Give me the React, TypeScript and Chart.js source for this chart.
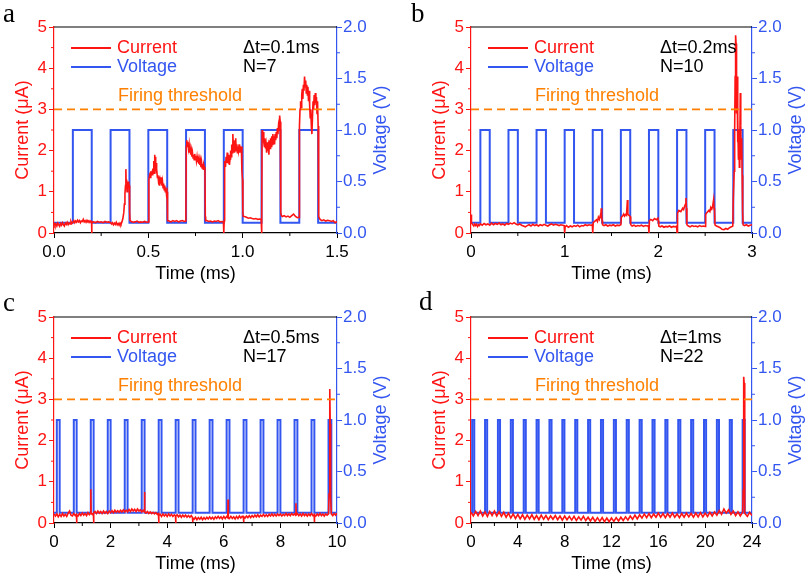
import React, { useEffect, useRef } from 'react';
import { Chart, registerables } from 'chart.js';

Chart.register(...registerables);

const RED = '#ff1414';
const BLUE = '#3456f0';
const ORANGE = '#ff8000';
const FONT = "'Liberation Sans', Arial, sans-serif";

const V_LOW = 0.1;
const V_HIGH = 1.0;
const THRESHOLD = 3;

const CURRENT_TICKS = [0, 1, 2, 3, 4, 5];
const VOLTAGE_TICKS = ['0.0', '0.5', '1.0', '1.5', '2.0'];

// ---------- panel a : dt = 0.1 ms ----------
const A_PULSE_STARTS = [0.1, 0.3, 0.5, 0.7, 0.9, 1.1, 1.3];
const A_PULSE_WIDTH = 0.1;
const A_CURRENT: [number, number][] = [
  [0, 0.25], [0.005, 0.18], [0.01, 0.22], [0.015, 0.17], [0.02, 0.24], [0.025, 0.2], [0.03, 0.16], [0.035, 0.23],
  [0.04, 0.19], [0.045, 0.25], [0.05, 0.2], [0.055, 0.17], [0.06, 0.24], [0.065, 0.21], [0.07, 0.26], [0.075, 0.2],
  [0.08, 0.24], [0.085, 0.22], [0.09, 0.28], [0.095, 0.23], [0.1, 0.26],
  [0.105, 0.3], [0.11, 0.25], [0.115, 0.29], [0.12, 0.26], [0.125, 0.31], [0.13, 0.27], [0.135, 0.3], [0.14, 0.25],
  [0.145, 0.29], [0.15, 0.28], [0.155, 0.33], [0.16, 0.27], [0.165, 0.3], [0.17, 0.26], [0.175, 0.31], [0.18, 0.28],
  [0.185, 0.3], [0.19, 0.26], [0.195, 0.29], [0.199, 0.28], [0.2, 0.0], [0.201, 0.26],
  [0.21, 0.27], [0.22, 0.25], [0.23, 0.28], [0.24, 0.26], [0.25, 0.27], [0.26, 0.25], [0.27, 0.28], [0.28, 0.26],
  [0.29, 0.27], [0.3, 0.25],
  [0.305, 0.22], [0.31, 0.25], [0.315, 0.2], [0.32, 0.24], [0.325, 0.21], [0.33, 0.26], [0.335, 0.2], [0.34, 0.23],
  [0.345, 0.19], [0.35, 0.24], [0.355, 0.21], [0.36, 0.27], [0.365, 0.35], [0.37, 0.5], [0.373, 0.7], [0.376, 0.95],
  [0.379, 1.15], [0.381, 1.55], [0.383, 1.1], [0.385, 1.3], [0.387, 1.0], [0.389, 1.2], [0.391, 1.05], [0.393, 1.25],
  [0.395, 1.1], [0.397, 1.2], [0.399, 1.15], [0.401, 0.5], [0.403, 0.3],
  [0.41, 0.28], [0.42, 0.26], [0.43, 0.27], [0.44, 0.29], [0.45, 0.26], [0.46, 0.27], [0.47, 0.26], [0.48, 0.28],
  [0.49, 0.26], [0.5, 0.27],
  [0.503, 1.3], [0.507, 1.4], [0.51, 1.35], [0.513, 1.5], [0.516, 1.42], [0.52, 1.48], [0.523, 1.4], [0.526, 1.55],
  [0.529, 1.75], [0.531, 1.45], [0.533, 1.9], [0.535, 1.6], [0.537, 1.85], [0.539, 1.5], [0.541, 1.7], [0.543, 1.45],
  [0.545, 1.55], [0.548, 1.35], [0.551, 1.4], [0.554, 1.25], [0.557, 1.3], [0.56, 1.15], [0.563, 1.28], [0.566, 1.2],
  [0.569, 1.35], [0.572, 1.15], [0.575, 1.25], [0.578, 1.1], [0.581, 1.2], [0.584, 1.05], [0.587, 1.15], [0.59, 1.0],
  [0.593, 1.1], [0.596, 0.95], [0.599, 1.0], [0.601, 0.5], [0.603, 0.3],
  [0.61, 0.29], [0.62, 0.27], [0.63, 0.3], [0.64, 0.28], [0.65, 0.3], [0.66, 0.27], [0.67, 0.29], [0.68, 0.3],
  [0.69, 0.28], [0.699, 0.29],
  [0.701, 2.1], [0.704, 2.25], [0.707, 2.15], [0.71, 2.2], [0.713, 2.05], [0.716, 2.15], [0.719, 1.95], [0.722, 2.05],
  [0.725, 1.9], [0.728, 2.0], [0.731, 1.85], [0.734, 1.95], [0.737, 1.82], [0.74, 1.9], [0.743, 1.78], [0.746, 1.92],
  [0.749, 1.8], [0.752, 1.87], [0.755, 1.75], [0.758, 1.85], [0.761, 1.72], [0.764, 1.8], [0.767, 1.68], [0.77, 1.78],
  [0.773, 1.65], [0.776, 1.75], [0.779, 1.6], [0.782, 1.72], [0.785, 1.58], [0.788, 1.68], [0.791, 1.55], [0.794, 1.65],
  [0.797, 1.6], [0.8, 1.55], [0.802, 0.4], [0.804, 0.3],
  [0.81, 0.3], [0.82, 0.28], [0.83, 0.29], [0.84, 0.27], [0.85, 0.29], [0.86, 0.28], [0.87, 0.3], [0.88, 0.27],
  [0.89, 0.28], [0.898, 0.27], [0.9, 0.0], [0.902, 0.3],
  [0.903, 1.65], [0.906, 1.75], [0.909, 1.6], [0.912, 1.85], [0.915, 1.7], [0.918, 1.95], [0.921, 1.75], [0.924, 1.7],
  [0.927, 1.9], [0.93, 1.65], [0.933, 1.8], [0.936, 2.0], [0.939, 1.85], [0.942, 2.15], [0.945, 1.95], [0.948, 2.4],
  [0.951, 2.0], [0.954, 2.25], [0.957, 1.95], [0.96, 2.1], [0.963, 2.3], [0.966, 2.0], [0.969, 2.15], [0.972, 1.95],
  [0.975, 2.1], [0.978, 2.0], [0.981, 2.15], [0.984, 1.95], [0.987, 2.05], [0.99, 2.0], [0.993, 2.1], [0.996, 1.5],
  [0.999, 1.3], [1.001, 0.5], [1.003, 0.4],
  [1.01, 0.4], [1.02, 0.38], [1.03, 0.36], [1.04, 0.37], [1.05, 0.35], [1.06, 0.34], [1.07, 0.35], [1.08, 0.33],
  [1.09, 0.34], [1.098, 0.33], [1.1, 0.0], [1.102, 0.3],
  [1.103, 2.5], [1.106, 2.3], [1.109, 2.45], [1.112, 2.2], [1.115, 2.1], [1.118, 2.3], [1.121, 2.05], [1.124, 2.15],
  [1.127, 1.95], [1.13, 2.2], [1.133, 2.0], [1.136, 2.1], [1.139, 1.9], [1.142, 2.25], [1.145, 2.05], [1.148, 2.3],
  [1.151, 2.1], [1.154, 2.35], [1.157, 2.15], [1.16, 2.4], [1.163, 2.2], [1.166, 2.35], [1.169, 2.15], [1.172, 2.4],
  [1.175, 2.25], [1.178, 2.45], [1.181, 2.3], [1.184, 2.55], [1.187, 2.4], [1.19, 2.6], [1.193, 2.5], [1.196, 2.85],
  [1.199, 2.7], [1.201, 1.4], [1.203, 0.5], [1.205, 0.42],
  [1.21, 0.4], [1.22, 0.42], [1.23, 0.39], [1.24, 0.41], [1.25, 0.38], [1.26, 0.42], [1.27, 0.46], [1.28, 0.4],
  [1.29, 0.37], [1.299, 0.38],
  [1.301, 2.6], [1.304, 3.0], [1.307, 3.2], [1.31, 3.05], [1.313, 3.35], [1.316, 3.5], [1.319, 3.25], [1.322, 3.6],
  [1.325, 3.45], [1.328, 3.8], [1.331, 3.55], [1.334, 3.7], [1.337, 3.4], [1.34, 3.6], [1.343, 3.35], [1.346, 3.55],
  [1.349, 3.2], [1.352, 3.45], [1.355, 3.1], [1.358, 2.8], [1.361, 3.0], [1.364, 2.6], [1.367, 2.4], [1.37, 2.8],
  [1.373, 3.2], [1.376, 3.0], [1.379, 3.35], [1.382, 3.1], [1.385, 3.4], [1.388, 3.15], [1.391, 3.3], [1.394, 2.9],
  [1.397, 3.2], [1.4, 2.6], [1.402, 1.1], [1.404, 0.4],
  [1.41, 0.33], [1.42, 0.3], [1.43, 0.32], [1.44, 0.29], [1.45, 0.31], [1.46, 0.3], [1.47, 0.28], [1.48, 0.3],
  [1.49, 0.25], [1.5, 0.28],
];

// ---------- panel b : dt = 0.2 ms ----------
const B_PULSE_STARTS = [0.1, 0.4, 0.7, 1.0, 1.3, 1.6, 1.9, 2.2, 2.5, 2.8];
const B_PULSE_WIDTH = 0.1;
const B_CURRENT: [number, number][] = [
  [0, 0.45], [0.005, 0.25], [0.02, 0.2], [0.03, 0.17], [0.04, 0.22], [0.05, 0.18], [0.06, 0.21], [0.07, 0.16],
  [0.08, 0.2], [0.09, 0.18], [0.1, 0.22], [0.12, 0.19], [0.14, 0.23], [0.16, 0.2], [0.18, 0.22], [0.2, 0.19],
  [0.22, 0.24], [0.24, 0.2], [0.26, 0.23], [0.28, 0.21], [0.3, 0.24], [0.32, 0.2], [0.34, 0.22], [0.36, 0.19],
  [0.38, 0.23], [0.4, 0.21], [0.42, 0.24], [0.44, 0.22], [0.46, 0.25], [0.48, 0.22], [0.5, 0.2], [0.52, 0.22],
  [0.54, 0.19], [0.56, 0.17], [0.58, 0.15], [0.6, 0.18], [0.62, 0.2], [0.64, 0.17], [0.66, 0.21], [0.68, 0.18],
  [0.7, 0.2], [0.72, 0.17], [0.74, 0.2], [0.76, 0.18], [0.78, 0.21], [0.8, 0.19], [0.82, 0.17], [0.84, 0.2],
  [0.86, 0.22], [0.88, 0.19], [0.9, 0.21], [0.92, 0.2], [0.94, 0.18], [0.96, 0.2], [0.98, 0.19], [0.995, 0.18],
  [1.0, 0.0], [1.005, 0.15], [1.02, 0.18], [1.04, 0.14], [1.06, 0.17], [1.08, 0.15], [1.1, 0.18], [1.12, 0.16],
  [1.14, 0.19], [1.16, 0.15], [1.18, 0.18], [1.2, 0.17], [1.22, 0.2], [1.24, 0.18], [1.26, 0.2], [1.28, 0.19],
  [1.295, 0.2], [1.3, 0.0], [1.305, 0.25], [1.32, 0.28], [1.34, 0.32], [1.35, 0.28], [1.36, 0.38], [1.37, 0.33],
  [1.38, 0.42], [1.385, 0.36], [1.39, 0.6], [1.395, 0.4], [1.4, 0.3], [1.405, 0.2], [1.42, 0.18], [1.44, 0.2],
  [1.46, 0.17], [1.48, 0.19], [1.5, 0.18], [1.52, 0.2], [1.54, 0.17], [1.56, 0.19], [1.58, 0.18], [1.6, 0.2],
  [1.605, 0.38], [1.62, 0.42], [1.63, 0.46], [1.64, 0.41], [1.65, 0.45], [1.66, 0.43], [1.67, 0.8], [1.675, 0.45],
  [1.69, 0.42], [1.7, 0.4], [1.705, 0.2], [1.72, 0.17], [1.74, 0.19], [1.76, 0.16], [1.78, 0.18], [1.8, 0.17],
  [1.82, 0.19], [1.84, 0.16], [1.86, 0.18], [1.88, 0.17], [1.895, 0.18], [1.9, 0.0], [1.905, 0.3], [1.92, 0.33],
  [1.94, 0.3], [1.96, 0.35], [1.98, 0.32], [1.995, 0.36], [2.0, 0.3], [2.005, 0.17], [2.02, 0.15], [2.04, 0.17],
  [2.06, 0.14], [2.08, 0.16], [2.1, 0.15], [2.12, 0.17], [2.14, 0.14], [2.16, 0.16], [2.18, 0.15], [2.195, 0.17],
  [2.2, 0.0], [2.205, 0.48], [2.22, 0.55], [2.24, 0.52], [2.26, 0.6], [2.27, 0.57], [2.28, 0.65], [2.29, 0.7],
  [2.295, 0.85], [2.3, 0.6], [2.305, 0.2], [2.32, 0.17], [2.34, 0.15], [2.36, 0.18], [2.38, 0.16], [2.4, 0.17],
  [2.42, 0.15], [2.44, 0.18], [2.46, 0.16], [2.48, 0.17], [2.5, 0.16], [2.505, 0.45], [2.52, 0.5], [2.54, 0.55],
  [2.55, 0.52], [2.56, 0.62], [2.57, 0.58], [2.58, 0.65], [2.59, 0.8], [2.595, 0.6], [2.6, 0.55], [2.605, 0.2],
  [2.62, 0.17], [2.64, 0.15], [2.66, 0.13], [2.68, 0.09], [2.7, 0.08], [2.72, 0.11], [2.74, 0.09], [2.76, 0.13],
  [2.78, 0.15], [2.795, 0.17], [2.8, 0.8], [2.81, 1.5], [2.815, 2.5], [2.82, 3.8], [2.825, 4.8], [2.83, 4.6],
  [2.835, 2.9], [2.84, 3.8], [2.845, 2.2], [2.85, 2.8], [2.855, 1.8], [2.86, 2.5], [2.865, 1.6], [2.87, 2.2],
  [2.875, 3.4], [2.88, 2.6], [2.885, 1.8], [2.89, 2.3], [2.895, 1.4], [2.9, 0.5], [2.905, 0.2], [2.92, 0.18],
  [2.94, 0.2], [2.96, 0.17], [2.98, 0.19], [3.0, 0.2],
];

// ---------- panel c : dt = 0.5 ms ----------
const C_PULSE_STARTS = [0.1, 0.7, 1.3, 1.9, 2.5, 3.1, 3.7, 4.3, 4.9, 5.5, 6.1, 6.7, 7.3, 7.9, 8.5, 9.1, 9.7];
const C_PULSE_WIDTH = 0.1;
const C_CURRENT: [number, number][] = [
  [0, 0.22], [0.05, 0.17], [0.1, 0.22], [0.15, 0.15], [0.2, 0.21], [0.25, 0.16], [0.3, 0.23], [0.35, 0.17],
  [0.4, 0.21], [0.45, 0.16], [0.5, 0.24], [0.55, 0.29], [0.6, 0.19], [0.65, 0.17], [0.7, 0.23], [0.75, 0.18],
  [0.79, 0.21], [0.8, 0.0], [0.81, 0.2], [0.85, 0.17], [0.9, 0.23], [0.95, 0.18], [1.0, 0.24], [1.05, 0.19],
  [1.1, 0.23], [1.15, 0.18], [1.2, 0.25], [1.25, 0.2], [1.29, 0.23], [1.3, 0.82], [1.31, 0.24], [1.35, 0.21],
  [1.39, 0.23], [1.4, 0.0], [1.41, 0.25], [1.45, 0.28], [1.5, 0.23], [1.55, 0.29], [1.6, 0.24], [1.65, 0.28],
  [1.7, 0.23], [1.75, 0.29], [1.8, 0.24], [1.85, 0.28], [1.9, 0.23], [1.95, 0.29], [2.0, 0.25], [2.05, 0.3],
  [2.1, 0.25], [2.15, 0.31], [2.2, 0.26], [2.25, 0.3], [2.3, 0.26], [2.35, 0.31], [2.4, 0.27], [2.45, 0.32],
  [2.5, 0.27], [2.55, 0.31], [2.6, 0.27], [2.65, 0.33], [2.7, 0.28], [2.75, 0.34], [2.8, 0.29], [2.85, 0.33],
  [2.9, 0.28], [2.95, 0.34], [3.0, 0.29], [3.05, 0.32], [3.1, 0.27], [3.15, 0.31], [3.19, 0.27], [3.2, 0.75],
  [3.21, 0.27], [3.25, 0.24], [3.3, 0.28], [3.35, 0.23], [3.4, 0.27], [3.45, 0.23], [3.5, 0.26], [3.55, 0.22],
  [3.6, 0.25], [3.65, 0.21], [3.69, 0.23], [3.7, 0.0], [3.71, 0.18], [3.75, 0.21], [3.8, 0.16], [3.85, 0.22],
  [3.9, 0.17], [3.95, 0.21], [4.0, 0.16], [4.05, 0.22], [4.1, 0.17], [4.15, 0.21], [4.2, 0.16], [4.25, 0.2],
  [4.29, 0.18], [4.3, 0.0], [4.31, 0.17], [4.35, 0.2], [4.4, 0.15], [4.45, 0.19], [4.5, 0.14], [4.55, 0.19],
  [4.6, 0.15], [4.65, 0.19], [4.7, 0.14], [4.75, 0.18], [4.8, 0.14], [4.85, 0.18], [4.89, 0.14], [4.9, 0.02],
  [4.91, 0.12], [4.95, 0.09], [5.0, 0.14], [5.05, 0.08], [5.1, 0.13], [5.15, 0.09], [5.2, 0.14], [5.25, 0.08],
  [5.3, 0.13], [5.35, 0.09], [5.4, 0.14], [5.45, 0.1], [5.5, 0.15], [5.55, 0.1], [5.6, 0.14], [5.65, 0.09],
  [5.7, 0.15], [5.75, 0.11], [5.8, 0.16], [5.85, 0.11], [5.9, 0.15], [5.95, 0.1], [6.0, 0.16], [6.05, 0.11],
  [6.1, 0.16], [6.14, 0.13], [6.15, 0.57], [6.16, 0.14], [6.2, 0.11], [6.25, 0.16], [6.3, 0.11], [6.35, 0.15],
  [6.4, 0.1], [6.45, 0.16], [6.5, 0.11], [6.55, 0.17], [6.6, 0.12], [6.65, 0.16], [6.69, 0.14], [6.7, 0.02],
  [6.71, 0.15], [6.75, 0.12], [6.8, 0.17], [6.85, 0.13], [6.9, 0.18], [6.95, 0.13], [7.0, 0.18], [7.05, 0.14],
  [7.1, 0.19], [7.15, 0.15], [7.2, 0.2], [7.25, 0.15], [7.3, 0.19], [7.35, 0.16], [7.4, 0.21], [7.45, 0.16],
  [7.5, 0.2], [7.55, 0.16], [7.6, 0.21], [7.65, 0.17], [7.7, 0.22], [7.75, 0.17], [7.8, 0.21], [7.85, 0.17],
  [7.9, 0.22], [7.95, 0.18], [8.0, 0.22], [8.05, 0.17], [8.1, 0.21], [8.15, 0.18], [8.2, 0.23], [8.25, 0.18],
  [8.3, 0.22], [8.35, 0.18], [8.4, 0.23], [8.45, 0.19], [8.5, 0.22], [8.54, 0.19], [8.55, 0.48], [8.56, 0.2],
  [8.6, 0.23], [8.65, 0.18], [8.7, 0.22], [8.75, 0.17], [8.8, 0.23], [8.85, 0.18], [8.9, 0.22], [8.95, 0.17],
  [9.0, 0.22], [9.05, 0.18], [9.1, 0.23], [9.15, 0.18], [9.19, 0.2], [9.2, 0.02], [9.21, 0.2], [9.25, 0.17],
  [9.3, 0.22], [9.35, 0.18], [9.4, 0.23], [9.45, 0.18], [9.5, 0.22], [9.55, 0.17], [9.6, 0.22], [9.65, 0.19],
  [9.7, 0.22], [9.72, 0.7], [9.74, 1.8], [9.75, 3.25], [9.76, 2.4], [9.77, 1.2], [9.78, 0.6], [9.8, 0.22],
  [9.85, 0.18], [9.9, 0.23], [9.95, 0.19], [10, 0.24],
];

// ---------- panel d : dt = 1 ms ----------
const D_PULSE_STARTS = [0.1, 1.2, 2.3, 3.4, 4.5, 5.6, 6.7, 7.8, 8.9, 10.0, 11.1, 12.2, 13.3, 14.4, 15.5, 16.6, 17.7, 18.8, 19.9, 21.0, 22.1, 23.2];
const D_PULSE_WIDTH = 0.18;
const D_CURRENT: [number, number][] = [
  [0, 0.26], [0.2, 0.17], [0.4, 0.28], [0.6, 0.18], [0.8, 0.29], [1.0, 0.17], [1.2, 0.27], [1.4, 0.16],
  [1.6, 0.28], [1.8, 0.18], [2.0, 0.29], [2.2, 0.17], [2.4, 0.27], [2.6, 0.16], [2.8, 0.26], [3.0, 0.14],
  [3.2, 0.24], [3.4, 0.12], [3.6, 0.22], [3.8, 0.11], [4.0, 0.21], [4.2, 0.1], [4.4, 0.2], [4.6, 0.09],
  [4.8, 0.19], [5.0, 0.1], [5.2, 0.2], [5.4, 0.09], [5.6, 0.18], [5.8, 0.08], [6.0, 0.19], [6.2, 0.09],
  [6.4, 0.18], [6.6, 0.08], [6.8, 0.17], [7.0, 0.09], [7.2, 0.18], [7.4, 0.08], [7.6, 0.17], [7.8, 0.07],
  [8.0, 0.17], [8.2, 0.08], [8.4, 0.16], [8.6, 0.07], [8.8, 0.16], [9.0, 0.06], [9.2, 0.15], [9.4, 0.07],
  [9.6, 0.16], [9.8, 0.06], [10.0, 0.14], [10.2, 0.05], [10.4, 0.14], [10.6, 0.04], [10.8, 0.13], [11.0, 0.04],
  [11.2, 0.13], [11.4, 0.03], [11.6, 0.12], [11.8, 0.03], [12.0, 0.12], [12.2, 0.04], [12.4, 0.13], [12.6, 0.05],
  [12.8, 0.14], [13.0, 0.06], [13.2, 0.15], [13.4, 0.07], [13.6, 0.17], [13.8, 0.09], [14.0, 0.19], [14.2, 0.1],
  [14.4, 0.2], [14.6, 0.12], [14.8, 0.22], [15.0, 0.13], [15.2, 0.23], [15.4, 0.13], [15.6, 0.22], [15.8, 0.14],
  [16.0, 0.24], [16.2, 0.14], [16.4, 0.23], [16.6, 0.13], [16.8, 0.23], [17.0, 0.14], [17.2, 0.24], [17.4, 0.14],
  [17.6, 0.22], [17.8, 0.13], [18.0, 0.23], [18.2, 0.14], [18.4, 0.24], [18.6, 0.15], [18.8, 0.23], [19.0, 0.14],
  [19.2, 0.24], [19.4, 0.15], [19.6, 0.25], [19.8, 0.15], [20.0, 0.24], [20.2, 0.16], [20.4, 0.26], [20.6, 0.17],
  [20.8, 0.27], [21.0, 0.19], [21.2, 0.3], [21.4, 0.21], [21.6, 0.34], [21.8, 0.24], [22.0, 0.32], [22.2, 0.21],
  [22.4, 0.29], [22.6, 0.18], [22.8, 0.27], [23.0, 0.17], [23.2, 0.26], [23.25, 0.8], [23.28, 2.5], [23.3, 3.55],
  [23.33, 3.4], [23.36, 1.0], [23.4, 0.24], [23.6, 0.16], [23.8, 0.26], [24, 0.18],
];

type PanelDef = {
  letter: string;
  left: number; top: number; w: number; h: number;
  area: { l: number; r: number; t: number; b: number };
  xMax: number; xStep: number; xMinor: number; xDec: number;
  pulses: number[]; pulseWidth: number; current: [number, number][];
  dt: string; n: string;
  letterX: number; letterY: number;
};

const PANELS: PanelDef[] = [
  { letter: 'a', left: 0, top: 0, w: 404, h: 288, area: { l: 54, r: 337, t: 27, b: 233 }, xMax: 1.5, xStep: 0.5, xMinor: 0.25, xDec: 1,
    pulses: A_PULSE_STARTS, pulseWidth: A_PULSE_WIDTH, current: A_CURRENT, dt: '\u0394t=0.1ms', n: 'N=7', letterX: 3, letterY: 22 },
  { letter: 'b', left: 404, top: 0, w: 405, h: 288, area: { l: 67, r: 348, t: 27, b: 233 }, xMax: 3, xStep: 1, xMinor: 0.5, xDec: 0,
    pulses: B_PULSE_STARTS, pulseWidth: B_PULSE_WIDTH, current: B_CURRENT, dt: '\u0394t=0.2ms', n: 'N=10', letterX: 7, letterY: 22 },
  { letter: 'c', left: 0, top: 288, w: 404, h: 288, area: { l: 54, r: 337, t: 29, b: 235 }, xMax: 10, xStep: 2, xMinor: 1, xDec: 0,
    pulses: C_PULSE_STARTS, pulseWidth: C_PULSE_WIDTH, current: C_CURRENT, dt: '\u0394t=0.5ms', n: 'N=17', letterX: 3, letterY: 23 },
  { letter: 'd', left: 404, top: 288, w: 405, h: 288, area: { l: 67, r: 348, t: 29, b: 235 }, xMax: 24, xStep: 4, xMinor: 2, xDec: 0,
    pulses: D_PULSE_STARTS, pulseWidth: D_PULSE_WIDTH, current: D_CURRENT, dt: '\u0394t=1ms', n: 'N=22', letterX: 15, letterY: 22 },
];

function buildVoltage(starts: number[], width: number, xMax: number) {
  const pts = [{ x: 0, y: V_LOW }];
  for (const s of starts) {
    pts.push({ x: s, y: V_LOW }, { x: s, y: V_HIGH }, { x: s + width, y: V_HIGH }, { x: s + width, y: V_LOW });
  }
  pts.push({ x: xMax, y: V_LOW });
  return pts;
}

function PanelChart({ p }: { p: PanelDef }) {
  const ref = useRef<HTMLCanvasElement | null>(null);
  useEffect(() => {
    if (!ref.current) return;
    const decor = {
      id: 'decor',
      afterDraw(chart: any) {
        const ctx = chart.ctx as CanvasRenderingContext2D;
        const { left, right, top, bottom } = chart.chartArea;
        const sx = chart.scales.x, sy = chart.scales.y, sy1 = chart.scales.y1;
        ctx.save();
        // top frame
        ctx.strokeStyle = '#000';
        ctx.lineWidth = 1.2;
        ctx.beginPath();
        ctx.moveTo(left, top);
        ctx.lineTo(right, top);
        ctx.stroke();
        // minor ticks
        ctx.lineWidth = 1;
        const nx = Math.round(p.xMax / p.xMinor);
        ctx.strokeStyle = '#000';
        for (let k = 1; k < nx; k += 2) {
          const px = sx.getPixelForValue(k * p.xMinor);
          ctx.beginPath(); ctx.moveTo(px, bottom); ctx.lineTo(px, bottom + 3); ctx.stroke();
        }
        ctx.strokeStyle = RED;
        for (let k = 1; k < 10; k += 2) {
          const py = sy.getPixelForValue(k * 0.5);
          ctx.beginPath(); ctx.moveTo(left - 3, py); ctx.lineTo(left, py); ctx.stroke();
        }
        ctx.strokeStyle = BLUE;
        for (let k = 1; k < 8; k += 2) {
          const py = sy1.getPixelForValue(k * 0.25);
          ctx.beginPath(); ctx.moveTo(right, py); ctx.lineTo(right + 3, py); ctx.stroke();
        }
        // axis titles
        const midY = (top + bottom) / 2;
        ctx.font = `18px ${FONT}`;
        ctx.textAlign = 'center';
        ctx.textBaseline = 'middle';
        ctx.fillStyle = RED;
        ctx.save(); ctx.translate(left - 31, midY); ctx.rotate(-Math.PI / 2); ctx.fillText('Current (\u03bcA)', 0, 0); ctx.restore();
        ctx.fillStyle = BLUE;
        ctx.save(); ctx.translate(right + 44, midY); ctx.rotate(-Math.PI / 2); ctx.fillText('Voltage (V)', 0, 0); ctx.restore();
        ctx.fillStyle = '#000';
        ctx.fillText('Time (ms)', (left + right) / 2, bottom + 41);
        // legend
        ctx.lineWidth = 2;
        ctx.strokeStyle = RED;
        ctx.beginPath(); ctx.moveTo(left + 17, top + 21); ctx.lineTo(left + 57, top + 21); ctx.stroke();
        ctx.strokeStyle = BLUE;
        ctx.beginPath(); ctx.moveTo(left + 17, top + 40); ctx.lineTo(left + 57, top + 40); ctx.stroke();
        ctx.textAlign = 'left';
        ctx.fillStyle = RED; ctx.fillText('Current', left + 63, top + 21);
        ctx.fillStyle = BLUE; ctx.fillText('Voltage', left + 63, top + 40);
        ctx.fillStyle = '#000';
        ctx.fillText(p.dt, left + 189, top + 21);
        ctx.fillText(p.n, left + 189, top + 40);
        ctx.fillStyle = ORANGE;
        ctx.fillText('Firing threshold', left + 64, top + 69);
        // panel letter
        ctx.fillStyle = '#000';
        ctx.textBaseline = 'alphabetic';
        ctx.font = `27px 'Liberation Serif', 'Times New Roman', serif`;
        ctx.fillText(p.letter, p.letterX, p.letterY);
        ctx.restore();
      },
    };

    const tickFont = { family: FONT, size: 17 };
    const chart = new Chart(ref.current, {
      type: 'line',
      data: {
        datasets: [
          {
            label: 'Firing threshold',
            data: [{ x: 0, y: THRESHOLD }, { x: p.xMax, y: THRESHOLD }],
            borderColor: ORANGE, borderWidth: 1.6, borderDash: [8, 5], pointRadius: 0, yAxisID: 'y',
          },
          {
            label: 'Current',
            data: p.current.map(([x, y]) => ({ x, y })),
            borderColor: RED, borderWidth: 1.6, pointRadius: 0, yAxisID: 'y',
          },
          {
            label: 'Voltage',
            data: buildVoltage(p.pulses, p.pulseWidth, p.xMax),
            borderColor: BLUE, borderWidth: 2, pointRadius: 0, yAxisID: 'y1',
          },
        ],
      },
      options: {
        responsive: false,
        animation: false,
        events: [],
        layout: { padding: { top: p.area.t, left: 0, right: 0, bottom: 0 } },
        plugins: { legend: { display: false }, tooltip: { enabled: false } },
        scales: {
          x: {
            type: 'linear', min: 0, max: p.xMax,
            afterFit: (s: any) => { s.height = p.h - p.area.b; },
            ticks: { stepSize: p.xStep, autoSkip: false, maxRotation: 0, color: '#000', font: tickFont, padding: 4,
              callback: (v: any) => Number(v).toFixed(p.xDec) },
            grid: { display: true, drawOnChartArea: false, drawTicks: true, tickLength: 5, tickColor: '#000', tickWidth: 1 },
            border: { display: true, color: '#000', width: 1.2 },
          },
          y: {
            type: 'linear', position: 'left', min: 0, max: 5,
            afterFit: (s: any) => { s.width = p.area.l; },
            ticks: { stepSize: 1, color: RED, font: tickFont, padding: 2,
              callback: (v: any) => String(CURRENT_TICKS[Math.round(Number(v))]) },
            grid: { display: true, drawOnChartArea: false, drawTicks: true, tickLength: 5, tickColor: RED, tickWidth: 1 },
            border: { display: true, color: RED, width: 1.2 },
          },
          y1: {
            type: 'linear', position: 'right', min: 0, max: 2,
            afterFit: (s: any) => { s.width = p.w - p.area.r; },
            ticks: { stepSize: 0.5, color: BLUE, font: tickFont, padding: 1,
              callback: (v: any) => VOLTAGE_TICKS[Math.round(Number(v) * 2)] },
            grid: { display: true, drawOnChartArea: false, drawTicks: true, tickLength: 5, tickColor: BLUE, tickWidth: 1 },
            border: { display: true, color: BLUE, width: 1.2 },
          },
        },
      } as any,
      plugins: [decor],
    });
    return () => chart.destroy();
  }, [p]);
  return (
    <canvas
      ref={ref}
      width={p.w}
      height={p.h}
      style={{ position: 'absolute', left: p.left, top: p.top, width: p.w, height: p.h, display: 'block' }}
    />
  );
}

export default function App() {
  return (
    <div style={{ position: 'absolute', left: 0, top: 0, width: 809, height: 576, background: '#fff' }}>
      {PANELS.map((p) => (
        <PanelChart key={p.letter} p={p} />
      ))}
    </div>
  );
}
